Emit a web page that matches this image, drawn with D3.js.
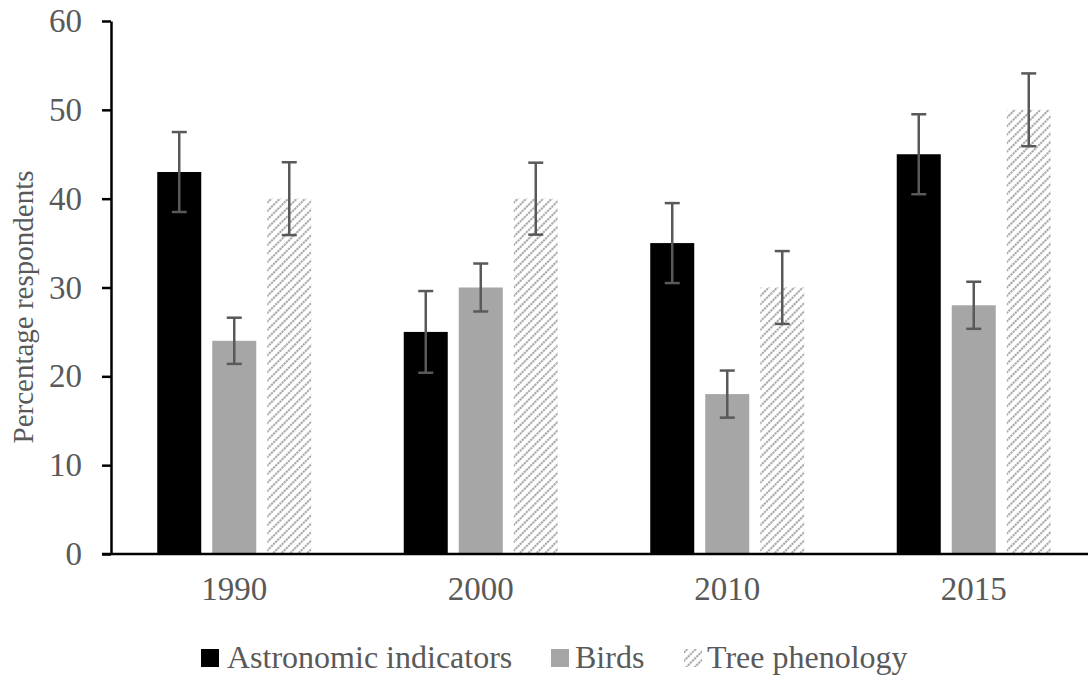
<!DOCTYPE html>
<html>
<head>
<meta charset="utf-8">
<script src="https://cdn.jsdelivr.net/npm/d3@7/dist/d3.min.js"></script>
<style>
  html, body { margin: 0; padding: 0; background: #fff; }
  svg { display: block; }
  text { font-family: "Liberation Serif", "Times New Roman", serif; fill: #595959; }
</style>
</head>
<body>
<svg id="chart" width="1088" height="677"></svg>
<script>
// Survey years and indicator series
const years = ["1990", "2000", "2010", "2015"];
const seriesNames = ["Astronomic indicators", "Birds", "Tree phenology"];

// Percentage of respondents per series, one value per year
const astronomic = [43, 25, 35, 45];
const birds = [24, 30, 18, 28];
const tree = [40, 40, 30, 50];

// Error bar half-widths per series
const astronomicErr = [4.5, 4.6, 4.5, 4.5];
const birdsErr = [2.6, 2.7, 2.65, 2.65];
const treeErr = [4.1, 4.05, 4.1, 4.1];

const yTicks = [0, 10, 20, 30, 40, 50, 60];

const seriesValues = [astronomic, birds, tree];
const seriesErrors = [astronomicErr, birdsErr, treeErr];

const svg = d3.select("#chart");

// Diagonal hatch for the tree phenology bars
const defs = svg.append("defs");
const pat = defs.append("pattern")
  .attr("id", "hatch")
  .attr("patternUnits", "userSpaceOnUse")
  .attr("width", 6).attr("height", 6)
  .attr("patternTransform", "rotate(45)");
pat.append("line")
  .attr("x1", 3).attr("y1", 0).attr("x2", 3).attr("y2", 6)
  .attr("stroke", "#a8a8a8")
  .attr("stroke-width", 2.1)
  .attr("stroke-dasharray", "2.2,0.8");

const fills = ["#000000", "#a6a6a6", "url(#hatch)"];

const x0 = d3.scaleBand()
  .domain(years)
  .range([111, 1097])
  .paddingInner(0.3306)
  .paddingOuter(0.1653);

const x1 = d3.scaleBand()
  .domain(seriesNames)
  .range([0, x0.bandwidth()])
  .paddingInner(0.2)
  .paddingOuter(0.1);

const y = d3.scaleLinear().domain([0, 60]).range([554, 21]);

// Bars
const groups = svg.append("g").selectAll("g")
  .data(years)
  .join("g")
  .attr("transform", d => `translate(${x0(d)},0)`);

groups.each(function(year, yi) {
  const g = d3.select(this);
  seriesNames.forEach((name, si) => {
    const v = seriesValues[si][yi];
    g.append("rect")
      .attr("x", x1(name))
      .attr("y", y(v))
      .attr("width", x1.bandwidth())
      .attr("height", y(0) - y(v))
      .attr("fill", fills[si]);
  });
});

// Error bars
groups.each(function(year, yi) {
  const g = d3.select(this);
  seriesNames.forEach((name, si) => {
    const v = seriesValues[si][yi];
    const e = seriesErrors[si][yi];
    const cx = x1(name) + x1.bandwidth() / 2;
    const eg = g.append("g")
      .attr("stroke", "#595959")
      .attr("stroke-width", 2.5);
    eg.append("line")
      .attr("x1", cx).attr("x2", cx)
      .attr("y1", y(v + e)).attr("y2", y(v - e));
    [v + e, v - e].forEach(t => {
      eg.append("line")
        .attr("x1", cx - 7.5).attr("x2", cx + 7.5)
        .attr("y1", y(t)).attr("y2", y(t));
    });
  });
});

// Y axis
const yAxis = svg.append("g")
  .attr("transform", "translate(111,0)")
  .call(d3.axisLeft(y).tickValues(yTicks).tickSize(9).tickSizeOuter(0).tickPadding(20));
yAxis.select(".domain").attr("stroke", "#000").attr("stroke-width", 2.5);
yAxis.selectAll(".tick line").attr("stroke", "#000").attr("stroke-width", 2.5);
yAxis.selectAll(".tick text")
  .attr("fill", "#595959")
  .style("font-size", "33px")
  .style("font-family", "'Liberation Serif', serif");

// X axis
const xAxis = svg.append("g")
  .attr("transform", "translate(0,554)")
  .call(d3.axisBottom(x0).tickSize(0).tickPadding(23));
xAxis.select(".domain").attr("d", "M102,0H1088").attr("stroke", "#000").attr("stroke-width", 2.5);
xAxis.selectAll(".tick text")
  .attr("fill", "#595959")
  .style("font-size", "33px")
  .style("font-family", "'Liberation Serif', serif");

// Y axis title
svg.append("text")
  .attr("transform", "translate(33,307) rotate(-90)")
  .attr("text-anchor", "middle")
  .style("font-size", "29px")
  .text("Percentage respondents");

// Legend
const legendItems = [
  { name: seriesNames[0], fill: fills[0], sx: 201, tx: 227 },
  { name: seriesNames[1], fill: fills[1], sx: 551, tx: 575 },
  { name: seriesNames[2], fill: fills[2], sx: 684, tx: 707 }
];
const legend = svg.append("g");
legendItems.forEach(it => {
  legend.append("rect")
    .attr("x", it.sx).attr("y", 649)
    .attr("width", 18).attr("height", 18)
    .attr("fill", it.fill);
  legend.append("text")
    .attr("x", it.tx).attr("y", 668)
    .style("font-size", "32px")
    .text(it.name);
});
</script>
</body>
</html>
